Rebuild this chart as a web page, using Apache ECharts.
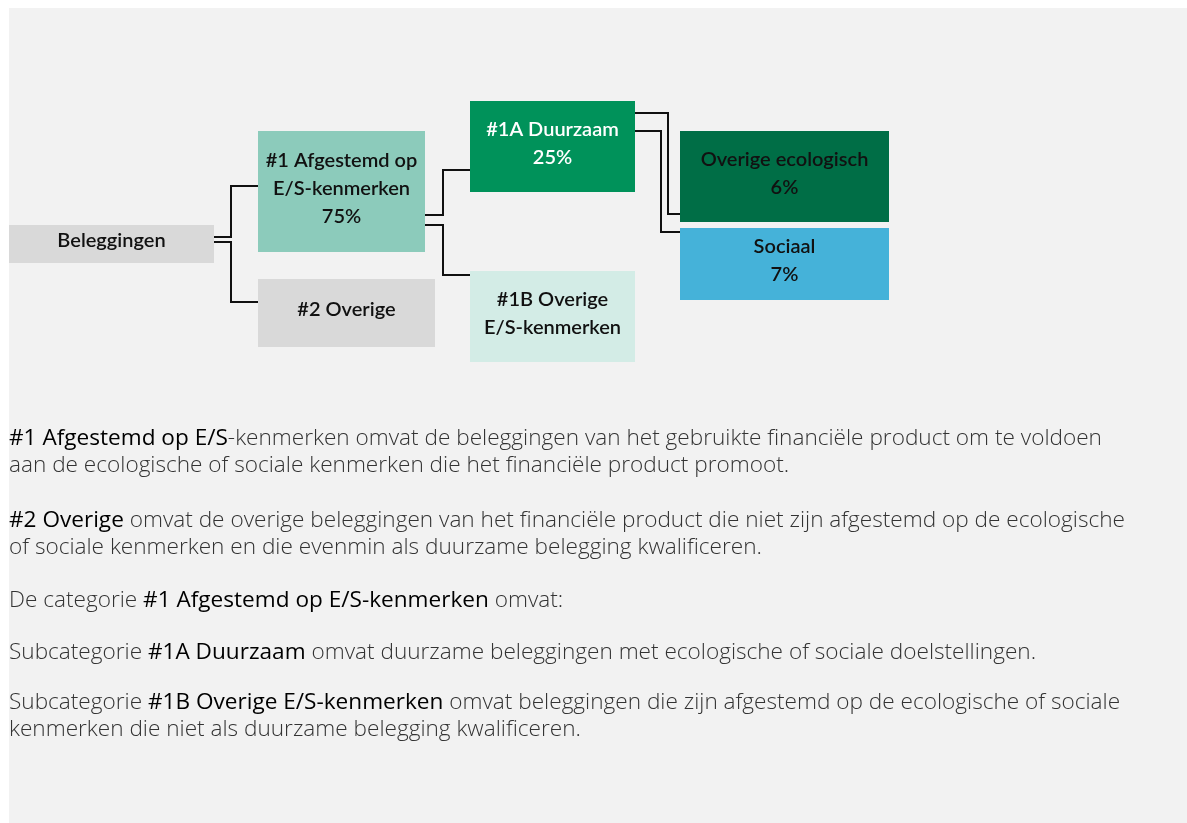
<!DOCTYPE html>
<html lang="nl">

<head>
    <meta charset="UTF-8">
    <meta name="viewport" content="width=device-width, initial-scale=1.0">
    <title>Beleggingen</title>
    <script src="https://cdn.jsdelivr.net/npm/echarts@6/dist/echarts.min.js"></script>
    <style>
        html, body {
            margin: 0;
            background: #ffffff;
        }
        #app {
            width: 1187px;
            height: 823px;
        }
    </style>
</head>

<body>
    <div id="app"></div>
    <script>
        // data
        let boxNames = ['Beleggingen', '#1 Afgestemd op\nE/S-kenmerken', '#2 Overige', '#1A Duurzaam',
            '#1B Overige\nE/S-kenmerken', 'Overige ecologisch', 'Sociaal']
        let boxShares = [null, 75, null, 25, null, 6, 7]
        let linkFrom = [0, 0, 1, 1, 3, 3]
        let linkTo = [1, 2, 3, 4, 5, 6]

        // layout (axis units = px of the panel), kept apart from the data
        let boxRects = [[9, 225, 214, 263], [258, 131, 425, 252], [258, 279, 435, 347], [470, 101, 635, 192],
            [470, 271, 635, 362], [680, 131, 889, 222], [680, 228, 889, 300]]
        // source port y, elbow x, target port y
        let linkPaths = [[237, 231, 186], [242, 231, 302], [215, 443, 170], [225, 443, 275],
            [113, 668, 214], [131, 661, 232]]
        let boxColors = ['#d9d9d9', '#8ccbbb', '#d9d9d9', '#00925a', '#d3ece6', '#006e46', '#45b2d9']
        let boxTextColors = ['#111', '#111', '#111', '#ffffff', '#111', '#111', '#111']

        // explanation text
        let paragraphs = [
            '{b|#1 Afgestemd op E/S}{r|-kenmerken omvat de beleggingen van het gebruikte financiële product om te voldoen}\n{r|aan de ecologische of sociale kenmerken die het financiële product promoot.}',
            '{b|#2 Overige}{r| omvat de overige beleggingen van het financiële product die niet zijn afgestemd op de ecologische}\n{r|of sociale kenmerken en die evenmin als duurzame belegging kwalificeren.}',
            '{r|De categorie }{b|#1 Afgestemd op E/S-kenmerken}{r| omvat:}',
            '{r|Subcategorie }{b|#1A Duurzaam}{r| omvat duurzame beleggingen met ecologische of sociale doelstellingen.}',
            '{r|Subcategorie }{b|#1B Overige E/S-kenmerken}{r| omvat beleggingen die zijn afgestemd op de ecologische of sociale}\n{r|kenmerken die niet als duurzame belegging kwalificeren.}'
        ]
        let paragraphTops = [427, 509, 589, 641, 691]

        let mCharts = echarts.init(document.getElementById('app'))

        let boxData = boxNames.map((name, i) => ({
            name: name,
            value: boxRects[i].concat([i])
        }))
        let linkData = linkFrom.map((s, i) => ({
            value: [boxRects[s][2], linkPaths[i][0], linkPaths[i][1], boxRects[linkTo[i]][0], linkPaths[i][2]]
        }))

        let font = 'Lato, "Noto Sans", sans-serif'
        let bodyFont = '"Open Sans", "Noto Sans", sans-serif'

        let option = {
            backgroundColor: '#ffffff',
            animation: false,
            grid: { left: 0, right: 0, top: 0, bottom: 0 },
            xAxis: { type: 'value', min: 0, max: 1187, show: false },
            yAxis: { type: 'value', min: 0, max: 823, inverse: true, show: false },
            graphic: [{
                type: 'rect',
                z: -10,
                shape: { x: 9, y: 8, width: 1178, height: 815 },
                style: { fill: '#f2f2f2' }
            }].concat(paragraphs.map((p, i) => ({
                type: 'text',
                left: 9,
                top: paragraphTops[i],
                style: {
                    text: p,
                    rich: {
                        b: { fontFamily: bodyFont, fontSize: 22.6, fontWeight: 400, fill: '#000', lineHeight: 27 },
                        r: { fontFamily: bodyFont, fontSize: 22.6, fontWeight: 300, fill: '#333', lineHeight: 27 }
                    }
                }
            }))),
            series: [{
                type: 'custom',
                name: 'links',
                data: linkData,
                renderItem: function (params, api) {
                    let x0 = api.value(0), sy = api.value(1), ex = api.value(2), x1 = api.value(3), ty = api.value(4)
                    let pts = [[x0, sy], [ex, sy], [ex, ty], [x1, ty]].map(p => api.coord(p))
                    return {
                        type: 'polyline',
                        shape: { points: pts },
                        style: { stroke: '#111', lineWidth: 2, fill: null }
                    }
                }
            }, {
                type: 'custom',
                name: 'boxes',
                data: boxData,
                renderItem: function (params, api) {
                    let i = api.value(4)
                    let p0 = api.coord([api.value(0), api.value(1)])
                    let p1 = api.coord([api.value(2), api.value(3)])
                    let label = boxNames[i] + (boxShares[i] != null ? '\n' + boxShares[i] + '%' : '')
                    return {
                        type: 'group',
                        children: [{
                            type: 'rect',
                            shape: { x: p0[0], y: p0[1], width: p1[0] - p0[0], height: p1[1] - p0[1] },
                            style: { fill: boxColors[i] }
                        }, {
                            type: 'text',
                            style: {
                                text: label,
                                x: (p0[0] + p1[0]) / 2,
                                y: (p0[1] + p1[1]) / 2 - 3,
                                align: 'center',
                                verticalAlign: 'middle',
                                fontFamily: font,
                                fontSize: 20,
                                fontWeight: 600,
                                lineHeight: 28,
                                fill: boxTextColors[i]
                            }
                        }]
                    }
                }
            }]
        }
        mCharts.setOption(option)
    </script>
</body>

</html>
